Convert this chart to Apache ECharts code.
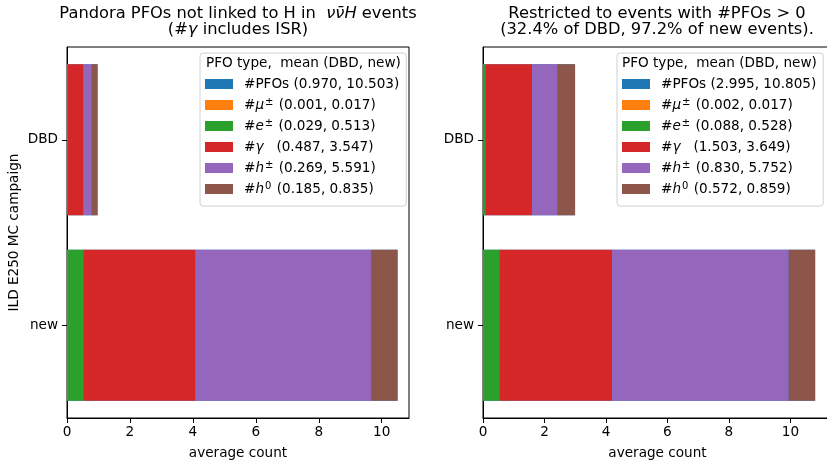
<!DOCTYPE html>
<html>
<head>
<meta charset="utf-8">
<script src="https://cdn.jsdelivr.net/npm/echarts@6/dist/echarts.min.js"></script>
<style>html,body{margin:0;padding:0;background:#fff}#c{width:827px;height:461px}</style>
</head>
<body>
<div id="c"></div>
<script>
// ---- data ----
const categories = ['DBD', 'new'];
const seriesNames = ['#PFOs', '#μ±', '#e±', '#γ', '#h±', '#h0'];
// left panel: all events
const leftPFOs  = [0.970, 10.503];
const leftMu    = [0.001, 0.017];
const leftE     = [0.029, 0.513];
const leftGamma = [0.487, 3.547];
const leftHch   = [0.269, 5.591];
const leftH0    = [0.185, 0.835];
// right panel: events with #PFOs > 0
const rightPFOs  = [2.995, 10.805];
const rightMu    = [0.002, 0.017];
const rightE     = [0.088, 0.528];
const rightGamma = [1.503, 3.649];
const rightHch   = [0.830, 5.752];
const rightH0    = [0.572, 0.859];
const xTicks = [0, 2, 4, 6, 8, 10];

const colors = ['#1f77b4', '#ff7f0e', '#2ca02c', '#d62728', '#9467bd', '#8c564b'];
const FONT = 'DejaVu Sans';
const FS = 13.6;
const LH = 16;
const f3 = v => v.toFixed(3);

const leftData = [leftPFOs, leftMu, leftE, leftGamma, leftHch, leftH0];
const rightData = [rightPFOs, rightMu, rightE, rightGamma, rightHch, rightH0];

const labelRich = {
  n: {fontFamily: FONT, fontSize: FS, color: '#000', lineHeight: LH},
  i: {fontFamily: FONT, fontSize: FS, color: '#000', fontStyle: 'italic', lineHeight: LH},
  s: {fontFamily: FONT, fontSize: 10, color: '#000', verticalAlign: 'top', lineHeight: LH, padding: [0, 1, 4, 1]}
};
function legendFormatter(arr) {
  return function (name) {
    const k = seriesNames.indexOf(name);
    const v = '(' + f3(arr[k][0]) + ', ' + f3(arr[k][1]) + ')';
    switch (k) {
      case 0: return '{n|#PFOs ' + v + '}';
      case 1: return '{n|#}{i|μ}{s|±}{n| ' + v + '}';
      case 2: return '{n|#}{i|e}{s|±}{n| ' + v + '}';
      case 3: return '{n|#}{i|γ}{n|   ' + v + '}';
      case 4: return '{n|#}{i|h}{s|±}{n| ' + v + '}';
      case 5: return '{n|#}{i|h}{s|0}{n| ' + v + '}';
    }
  };
}

function makeSeries(dataArr, xi) {
  return seriesNames.map((nm, k) => ({
    name: nm,
    type: 'bar',
    xAxisIndex: xi,
    yAxisIndex: xi,
    stack: k === 0 ? 'total' + xi : 'parts' + xi,
    barWidth: 151,
    barGap: '-100%',
    data: dataArr[k],
    itemStyle: {color: colors[k]},
    emphasis: {disabled: true},
    animation: false
  }));
}

function xAxis(gi, max) {
  return {
    type: 'value', gridIndex: gi, min: 0, max: max, interval: 2,
    name: 'average count', nameLocation: 'middle', nameGap: 28,
    nameTextStyle: {fontFamily: FONT, fontSize: FS, color: '#000'},
    axisLine: {show: true, onZero: false, lineStyle: {color: '#000', width: 1}},
    axisTick: {show: true, length: 5, lineStyle: {color: '#000'}, customValues: xTicks},
    axisLabel: {fontFamily: FONT, fontSize: FS, color: '#000', margin: 7, customValues: xTicks},
    splitLine: {show: false}
  };
}
function yAxis(gi, withName) {
  return {
    type: 'category', gridIndex: gi, data: categories, inverse: true,
    name: withName ? 'ILD E250 MC campaign' : '', nameLocation: 'middle', nameGap: 46, nameRotate: 90,
    nameTextStyle: {fontFamily: FONT, fontSize: FS, color: '#000'},
    axisLine: {show: true, lineStyle: {color: '#000', width: 1}},
    axisTick: {show: true, alignWithLabel: true, length: 5, lineStyle: {color: '#000'}},
    axisLabel: {fontFamily: FONT, fontSize: FS, color: '#000', margin: 9},
    splitLine: {show: false}
  };
}

function legend(left, arr) {
  return {
    left: left, top: 53, orient: 'vertical',
    data: seriesNames,
    icon: 'rect', itemWidth: 28, itemHeight: 10, itemGap: 5,
    padding: [23, 7, 9, 5],
    backgroundColor: 'rgba(255,255,255,0.8)',
    borderColor: '#d0d0d0', borderWidth: 1, borderRadius: 3,
    selectedMode: false,
    formatter: legendFormatter(arr),
    textStyle: {fontFamily: FONT, fontSize: FS, color: '#000', padding: [0, 0, 0, 6], lineHeight: LH, rich: labelRich}
  };
}

const titleRich = {
  n: {fontFamily: FONT, fontSize: 16.3, color: '#000', fontWeight: 'normal', lineHeight: 16},
  i: {fontFamily: FONT, fontSize: 16.3, color: '#000', fontWeight: 'normal', fontStyle: 'italic', lineHeight: 16}
};

const option = {
  backgroundColor: '#fff',
  animation: false,
  title: [
    {left: 238, top: 6, textAlign: 'center', padding: 0,
     text: '{n|Pandora PFOs not linked to H in  }{i|νν̄H}{n| events}\n{n|(#}{i|γ}{n| includes ISR)}',
     textStyle: {rich: titleRich, fontFamily: FONT, fontSize: 16.3, fontWeight: 'normal', color: '#000', lineHeight: 16}},
    {left: 657, top: 6, textAlign: 'center', padding: 0,
     text: '{n|Restricted to events with #PFOs > 0}\n{n|(32.4% of DBD, 97.2% of new events).}',
     textStyle: {rich: titleRich, fontFamily: FONT, fontSize: 16.3, fontWeight: 'normal', color: '#000', lineHeight: 16}}
  ],
  grid: [
    {left: 67, top: 47, width: 342, height: 371, show: true, borderColor: '#000', borderWidth: 1, containLabel: false, outerBoundsMode: 'none'},
    {left: 483, top: 47, width: 349, height: 371, show: true, borderColor: '#000', borderWidth: 1, containLabel: false, outerBoundsMode: 'none'}
  ],
  xAxis: [xAxis(0, 342 / 31.47), xAxis(1, 349 / 30.74)],
  yAxis: [yAxis(0, true), yAxis(1, false)],
  legend: [legend(200, leftData), legend(617, rightData)],
  graphic: [
    {type: 'text', left: 206, top: 56, z: 100,
     style: {text: 'PFO type,  mean (DBD, new)', font: '13.6px "DejaVu Sans"', fill: '#000'}},
    {type: 'text', left: 622, top: 56, z: 100,
     style: {text: 'PFO type,  mean (DBD, new)', font: '13.6px "DejaVu Sans"', fill: '#000'}}
  ],
  series: makeSeries(leftData, 0).concat(makeSeries(rightData, 1))
};

const chart = echarts.init(document.getElementById('c'), null, {renderer: 'canvas'});
chart.setOption(option);
</script>
</body>
</html>
